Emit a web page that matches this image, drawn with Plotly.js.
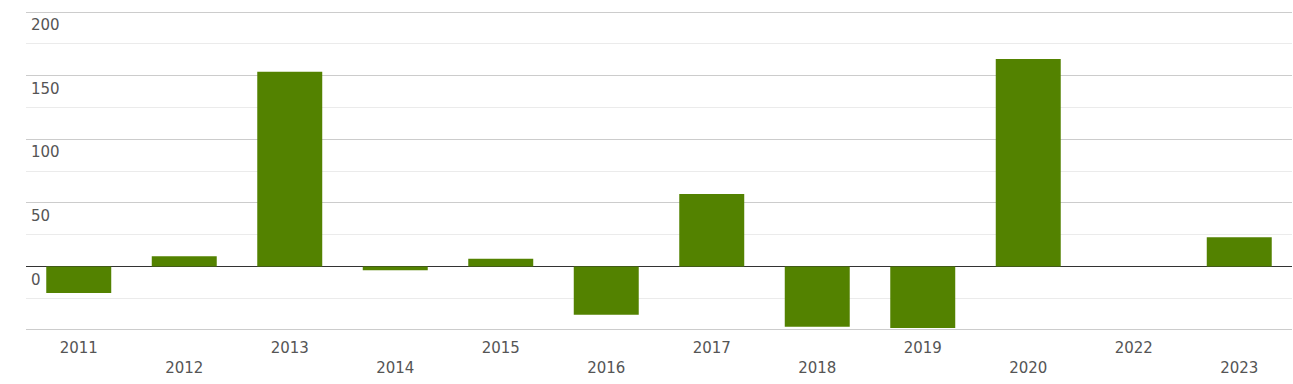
<!DOCTYPE html>
<html>
<head>
<meta charset="utf-8">
<script src="https://cdn.plot.ly/plotly-3.0.1.min.js"></script>
<style>html,body{margin:0;padding:0;background:#fff;}#chart{width:1293px;height:384px;}</style>
</head>
<body>
<div id="chart"></div>
<script>
const years = ['2011','2012','2013','2014','2015','2016','2017','2018','2019','2020','2022','2023'];
const values = [-21, 8, 153, -3, 6, -38, 57, -47.5, -48.5, 163, 0, 23];
const yTicks = [-50, 0, 50, 100, 150, 200];
const yTickText = ['', '0', '50', '100', '150', '200'];

const tickText = years.map((y, i) => i % 2 === 1 ? '<br>' + y : y);

Plotly.newPlot('chart', [{
  type: 'bar',
  x: years,
  y: values,
  marker: {color: '#538200'},
  hoverinfo: 'x+y'
}], {
  width: 1293, height: 384,
  margin: {l: 26, r: 1, t: 11, b: 53},
  paper_bgcolor: '#fff', plot_bgcolor: '#fff',
  bargap: 0.384,
  showlegend: false,
  font: {family: 'DejaVu Sans, sans-serif', size: 15, color: '#555'},
  xaxis: {
    type: 'category',
    range: [-0.5, 11.5],
    tickvals: years,
    ticktext: tickText,
    showgrid: false,
    ticks: '',
    tickangle: 0,
    ticklabelstandoff: 6,
    tickfont: {size: 15, color: '#555'},
    showline: false,
    zeroline: false
  },
  yaxis: {
    range: [-50.8, 200.8],
    tickvals: yTicks,
    ticktext: yTickText,
    ticklabelposition: 'inside',
    ticklabelshift: 13,
    ticklabelstandoff: 2,
    tickfont: {size: 15, color: '#555'},
    showgrid: true,
    gridcolor: '#cccccc',
    gridwidth: 1,
    minor: {tickvals: [-25, 25, 75, 125, 175], showgrid: true, gridcolor: '#ebebeb', gridwidth: 1},
    zeroline: true,
    zerolinecolor: '#333333',
    zerolinewidth: 1,
    showline: false,
    fixedrange: true
  }
}, {displayModeBar: false, staticPlot: true});
</script>
</body>
</html>
